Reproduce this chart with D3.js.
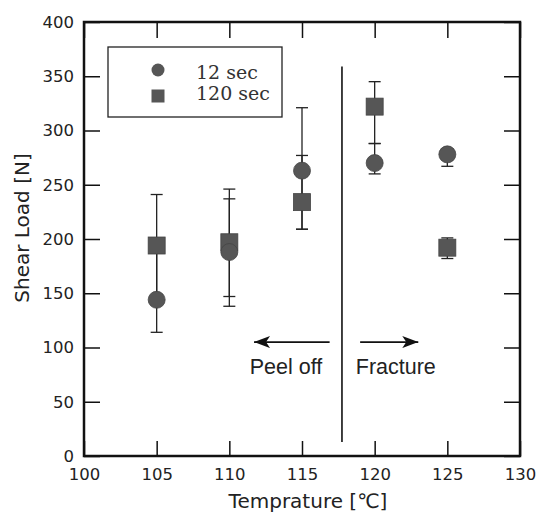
<!DOCTYPE html>
<html>
<head>
<meta charset="utf-8">
<script src="https://cdn.jsdelivr.net/npm/d3@7"></script>
<style>
  body { margin: 0; background: #fff; }
  svg { display: block; }
</style>
</head>
<body>
<script>
var temps = [105, 110, 115, 120, 125];

var load12 = [144, 188, 263, 270, 278];
var load12Low = [114, 138, 209, 260, 267];
var load12High = [190, 237, 321, 288, 283];

var load120 = [194, 197, 234, 322, 192];
var load120Low = [147, 147, 209, 288, 182];
var load120High = [241, 246, 277, 345, 201];

var xTicks = [100, 105, 110, 115, 120, 125, 130];
var yTicks = [0, 50, 100, 150, 200, 250, 300, 350, 400];

var width = 536, height = 515;
var margin = {top: 22, right: 16, bottom: 59, left: 84};
var w = width - margin.left - margin.right;
var h = height - margin.top - margin.bottom;

var svg = d3.select('body').append('svg')
    .attr('width', width)
    .attr('height', height)
  .append('g')
    .attr('transform', 'translate(' + margin.left + ',' + margin.top + ')');

var x = d3.scaleLinear().domain([100, 130]).range([0, w]);
var y = d3.scaleLinear().domain([0, 400]).range([h, 0]);

var tickFont = '"DejaVu Sans", Verdana, sans-serif';

// axes, ticks pointing inward
svg.append('g')
    .attr('transform', 'translate(0,' + h + ')')
    .call(d3.axisBottom(x).tickValues(xTicks).tickSize(-15).tickPadding(12));
svg.append('g')
    .call(d3.axisLeft(y).tickValues(yTicks).tickSize(-16).tickPadding(10));
svg.append('g')
    .call(d3.axisTop(x).tickValues(xTicks).tickSize(-16).tickFormat(''));
svg.append('g')
    .attr('transform', 'translate(' + w + ',0)')
    .call(d3.axisRight(y).tickValues(yTicks).tickSize(-16).tickFormat(''));

svg.selectAll('.domain').remove();
svg.selectAll('.tick line').attr('stroke', '#111').attr('stroke-width', 1.5);
svg.selectAll('.tick text')
    .attr('font-family', tickFont)
    .attr('font-size', 16.5)
    .attr('fill', '#222');

// frame
svg.append('rect')
    .attr('width', w).attr('height', h)
    .attr('fill', 'none')
    .attr('stroke', '#111')
    .attr('stroke-width', 2.5);

// axis titles
svg.append('text')
    .attr('x', x(115) + 6)
    .attr('y', h + 52)
    .attr('text-anchor', 'middle')
    .attr('font-family', tickFont)
    .attr('font-size', 20)
    .attr('fill', '#222')
    .text('Temprature [℃]');

svg.append('text')
    .attr('transform', 'translate(' + (29 - margin.left) + ',' + (y(200) - 11) + ') rotate(-90)')
    .attr('text-anchor', 'middle')
    .attr('font-family', tickFont)
    .attr('font-size', 20)
    .attr('fill', '#222')
    .text('Shear Load [N]');

// divider between regimes
svg.append('line')
    .attr('x1', x(117.75)).attr('x2', x(117.75))
    .attr('y1', y(13)).attr('y2', y(359))
    .attr('stroke', '#111').attr('stroke-width', 1.6);

// arrows
var defs = svg.append('defs');
defs.append('marker')
    .attr('id', 'head')
    .attr('viewBox', '0 0 16 12')
    .attr('refX', 16).attr('refY', 6)
    .attr('markerWidth', 17).attr('markerHeight', 12)
    .attr('markerUnits', 'userSpaceOnUse')
    .attr('orient', 'auto')
  .append('path')
    .attr('d', 'M0,0 L16,6 L0,12 L4,6 Z')
    .attr('fill', '#111');

var arrows = [[116.9, 111.7], [119.0, 123.0]];
svg.selectAll('.arrow')
    .data(arrows)
  .enter().append('line')
    .attr('x1', function(d) { return x(d[0]); })
    .attr('x2', function(d) { return x(d[1]); })
    .attr('y1', y(105)).attr('y2', y(105))
    .attr('stroke', '#111').attr('stroke-width', 1.8)
    .attr('marker-end', 'url(#head)');

var notes = [{t: 111.4, label: 'Peel off'}, {t: 118.7, label: 'Fracture'}];
svg.selectAll('.note')
    .data(notes)
  .enter().append('text')
    .attr('x', function(d) { return x(d.t); })
    .attr('y', y(76))
    .attr('font-family', '"Liberation Sans", Arial, sans-serif')
    .attr('font-size', 21.5)
    .attr('fill', '#222')
    .text(function(d) { return d.label; });

// error bars
function errorBars(lo, hi) {
  var g = svg.append('g').attr('stroke', '#222').attr('stroke-width', 1.3);
  temps.forEach(function(t, i) {
    g.append('line')
      .attr('x1', x(t)).attr('x2', x(t))
      .attr('y1', y(lo[i])).attr('y2', y(hi[i]));
    [lo[i], hi[i]].forEach(function(v) {
      g.append('line')
        .attr('x1', x(t) - 6).attr('x2', x(t) + 6)
        .attr('y1', y(v)).attr('y2', y(v));
    });
  });
}
errorBars(load12Low, load12High);
errorBars(load120Low, load120High);

var markerFill = '#565656';

svg.selectAll('.sq')
    .data(load120)
  .enter().append('rect')
    .attr('x', function(d, i) { return x(temps[i]) - 8.5; })
    .attr('y', function(d) { return y(d) - 8.5; })
    .attr('width', 17).attr('height', 17)
    .attr('fill', markerFill)
    .attr('stroke', '#444').attr('stroke-width', 0.8);

svg.selectAll('.dot')
    .data(load12)
  .enter().append('circle')
    .attr('cx', function(d, i) { return x(temps[i]); })
    .attr('cy', function(d) { return y(d); })
    .attr('r', 8.5)
    .attr('fill', markerFill)
    .attr('stroke', '#444').attr('stroke-width', 0.8);

// legend
var lg = svg.append('g').attr('transform', 'translate(' + (108 - margin.left) + ',' + (47 - margin.top) + ')');
lg.append('rect')
    .attr('width', 174).attr('height', 70)
    .attr('fill', '#fff')
    .attr('stroke', '#222').attr('stroke-width', 1.3);
lg.append('circle')
    .attr('cx', 50).attr('cy', 23).attr('r', 6.5)
    .attr('fill', markerFill);
lg.append('rect')
    .attr('x', 43.5).attr('y', 42.5).attr('width', 13).attr('height', 13)
    .attr('fill', markerFill);
var legendLabels = ['12 sec', '120 sec'];
lg.selectAll('.lt')
    .data(legendLabels)
  .enter().append('text')
    .attr('x', 88)
    .attr('y', function(d, i) { return 32 + i * 21; })
    .attr('font-family', '"DejaVu Serif", serif')
    .attr('font-size', 19)
    .attr('fill', '#333')
    .text(function(d) { return d; });
</script>
</body>
</html>
